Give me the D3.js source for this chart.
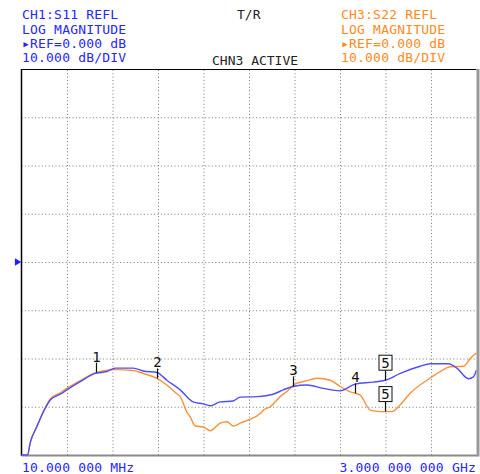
<!DOCTYPE html>
<html lang="en">
<head>
<meta charset="UTF-8">
<title>S11 / S22 REFL</title>
<script src="https://d3js.org/d3.v7.min.js"></script>
<style>
  body { margin: 0; background: #fff; }
  svg { display: block; }
  text { font-family: "DejaVu Sans Mono", monospace; }
  .grid line { stroke: #777; stroke-dasharray: 1,2.4; }
  .grid path { display: none; }
</style>
</head>
<body>
<svg width="480" height="474"></svg>
<script>
// frequency in MHz, level in dB
const s11 = [[10,-40],[50,-40],[67,-37.5],[111,-34.1],[166,-30.3],[199,-28.6],[264,-27.4],[308,-26.5],
  [396,-24.8],[494,-23.1],[571,-22.7],[626,-22.0],[744,-22.0],[810,-22.6],[900,-22.9],[965,-24.5],
  [1053,-26.5],[1138,-29.0],[1204,-29.4],[1250,-29.8],[1316,-29.0],[1401,-28.8],[1447,-28.0],
  [1557,-27.9],[1664,-27.4],[1730,-26.5],[1795,-25.8],[1885,-25.5],[1993,-26.2],[2104,-26.7],
  [2203,-25.3],[2321,-24.9],[2400,-24.5],[2499,-23.1],[2630,-21.6],[2696,-21.1],[2814,-21.1],
  [2871,-22.0],[2947,-24.2],[2980,-23.8],[3000,-22.4]];
const s22 = [[10,-40],[50,-40],[67,-37.5],[111,-34.1],[166,-30.2],[199,-28.4],[264,-27.1],[308,-26.2],
  [396,-24.6],[494,-23.0],[527,-22.7],[626,-22.3],[744,-22.5],[810,-23.1],[900,-24.1],[965,-25.5],
  [1027,-27.2],[1053,-27.9],[1097,-31.1],[1119,-32.1],[1151,-34.0],[1206,-34.2],[1250,-35.0],
  [1272,-34.6],[1316,-33.4],[1360,-33.1],[1404,-34.0],[1447,-33.4],[1502,-32.7],[1579,-31.4],
  [1600,-30.7],[1644,-30.0],[1710,-27.9],[1776,-26.2],[1798,-25.5],[1885,-24.6],[1951,-24.1],
  [2039,-24.5],[2104,-25.8],[2170,-26.9],[2236,-27.6],[2302,-30.7],[2367,-31.0],[2444,-31.0],
  [2499,-29.6],[2564,-27.2],[2674,-24.5],[2762,-22.7],[2827,-21.7],[2915,-21.6],[2959,-20.0],[3000,-18.8]];
// markers: label, frequency, trace, boxed
const markers = [
  {label: "1", f: 501, trace: "s22", boxed: false},
  {label: "2", f: 902, trace: "s22", boxed: false},
  {label: "3", f: 1797, trace: "s11", boxed: false},
  {label: "4", f: 2200, trace: "s22", boxed: false},
  {label: "5", f: 2400, trace: "s11", boxed: true},
  {label: "5", f: 2400, trace: "s22", boxed: true}
];
const leftHeader = ["CH1:S11 REFL", "LOG MAGNITUDE", "\u25B8REF=0.000 dB", "10.000 dB/DIV"];
const rightHeader = ["CH3:S22 REFL", "LOG MAGNITUDE", "\u25B8REF=0.000 dB", "10.000 dB/DIV"];
const startLabel = "10.000 000 MHz", stopLabel = "3.000 000 000 GHz";

const BLUE_TXT = "#2626ff", ORANGE_TXT = "#ff8a1c";
const BLUE = "#4f4ff0", ORANGE = "#f6923a";

let svg = d3.select("svg");
let pLeft = 21.5, pRight = 476.5, pTop = 69, pBottom = 455;
let x = d3.scaleLinear().domain([10, 3000]).range([pLeft, pRight]);
let y = d3.scaleLinear().domain([-40, 40]).range([pBottom, pTop]);

// dotted grid, 10 x 8 divisions
let xDivs = d3.range(11).map(i => 10 + i * 299);
let yDivs = d3.range(9).map(i => -40 + i * 10);
svg.append("g").attr("class", "grid")
    .attr("transform", `translate(0,${pBottom})`)
    .call(d3.axisBottom(x).tickValues(xDivs.slice(1, -1)).tickSize(-(pBottom - pTop)).tickFormat(""));
svg.append("g").attr("class", "grid")
    .attr("transform", `translate(${pLeft},0)`)
    .call(d3.axisLeft(y).tickValues(yDivs.slice(1, -1)).tickSize(-(pRight - pLeft)).tickFormat(""));

// frame
svg.append("line").attr("x1", pLeft).attr("x2", pRight).attr("y1", pTop + 0.5).attr("y2", pTop + 0.5)
    .attr("stroke", "#000").attr("stroke-width", 1.2);
svg.append("line").attr("x1", pLeft).attr("x2", pLeft).attr("y1", pTop).attr("y2", pBottom + 1)
    .attr("stroke", "#000").attr("stroke-width", 1.5);
svg.append("line").attr("x1", pLeft).attr("x2", pRight + 1).attr("y1", pBottom + 0.5).attr("y2", pBottom + 0.5)
    .attr("stroke", "#8a8a8a").attr("stroke-width", 2);
svg.append("line").attr("x1", pRight + 1.5).attr("x2", pRight + 1.5).attr("y1", pTop).attr("y2", pBottom + 1.5)
    .attr("stroke", "#999").attr("stroke-width", 3);

// reference level pointer
svg.append("path").attr("d", d3.symbol(d3.symbolTriangle, 24)())
    .attr("transform", `translate(17,${y(0)}) rotate(90)`).attr("fill", "#2020ff");

// traces
svg.append("clipPath").attr("id", "clip").append("rect")
    .attr("x", pLeft).attr("y", pTop).attr("width", pRight - pLeft).attr("height", pBottom - pTop + 1);
let line = d3.line().x(d => x(d[0])).y(d => y(d[1])).curve(d3.curveMonotoneX);
let traces = {s11: s11, s22: s22};
svg.append("path").datum(s22).attr("d", line).attr("clip-path", "url(#clip)")
    .attr("fill", "none").attr("stroke", ORANGE).attr("stroke-width", 1.4);
svg.append("path").datum(s11).attr("d", line).attr("clip-path", "url(#clip)")
    .attr("fill", "none").attr("stroke", BLUE).attr("stroke-width", 1.4);

function levelAt(data, f) {
    let i = d3.bisector(d => d[0]).right(data, f);
    let a = data[Math.max(0, i - 1)], b = data[Math.min(data.length - 1, i)];
    if (a[0] === b[0]) return a[1];
    return a[1] + (b[1] - a[1]) * (f - a[0]) / (b[0] - a[0]);
}

// markers
markers.forEach(m => {
    let mx = Math.round(x(m.f)) + 0.5, my = y(levelAt(traces[m.trace], m.f));
    let g = svg.append("g");
    g.append("line").attr("x1", mx).attr("x2", mx).attr("y1", my).attr("y2", my - 10)
        .attr("stroke", "#111").attr("stroke-width", 1.2);
    if (m.boxed) {
        g.append("rect").attr("x", mx - 6.5).attr("y", my - 25).attr("width", 13).attr("height", 15)
            .attr("fill", "#fff").attr("stroke", "#111").attr("stroke-width", 1);
        g.append("text").attr("x", mx).attr("y", my - 12.5).attr("text-anchor", "middle")
            .attr("font-size", 14).attr("fill", "#111").text(m.label);
    } else {
        g.append("text").attr("x", mx).attr("y", my - 11).attr("text-anchor", "middle")
            .attr("font-size", 14).attr("fill", "#111").text(m.label);
    }
});

// header text
let lineY = [19, 33.5, 48, 62];
leftHeader.forEach((t, i) => svg.append("text").attr("x", 22).attr("y", lineY[i])
    .attr("font-size", 13).attr("letter-spacing", 0.2).attr("fill", BLUE_TXT).text(t));
rightHeader.forEach((t, i) => svg.append("text").attr("x", 341).attr("y", lineY[i])
    .attr("font-size", 13).attr("letter-spacing", 0.2).attr("fill", ORANGE_TXT).text(t));
svg.append("text").attr("x", 237).attr("y", 19).attr("font-size", 13).attr("fill", "#222").text("T/R");
svg.append("text").attr("x", 212).attr("y", 65).attr("font-size", 13).attr("fill", "#222").text("CHN3 ACTIVE");

// start / stop frequency
svg.append("text").attr("x", 22).attr("y", 472).attr("font-size", 13).attr("letter-spacing", 0.2)
    .attr("fill", BLUE_TXT).text(startLabel);
svg.append("text").attr("x", 476).attr("y", 472).attr("text-anchor", "end").attr("letter-spacing", 0.2)
    .attr("font-size", 13).attr("fill", BLUE_TXT).text(stopLabel);
</script>
</body>
</html>
